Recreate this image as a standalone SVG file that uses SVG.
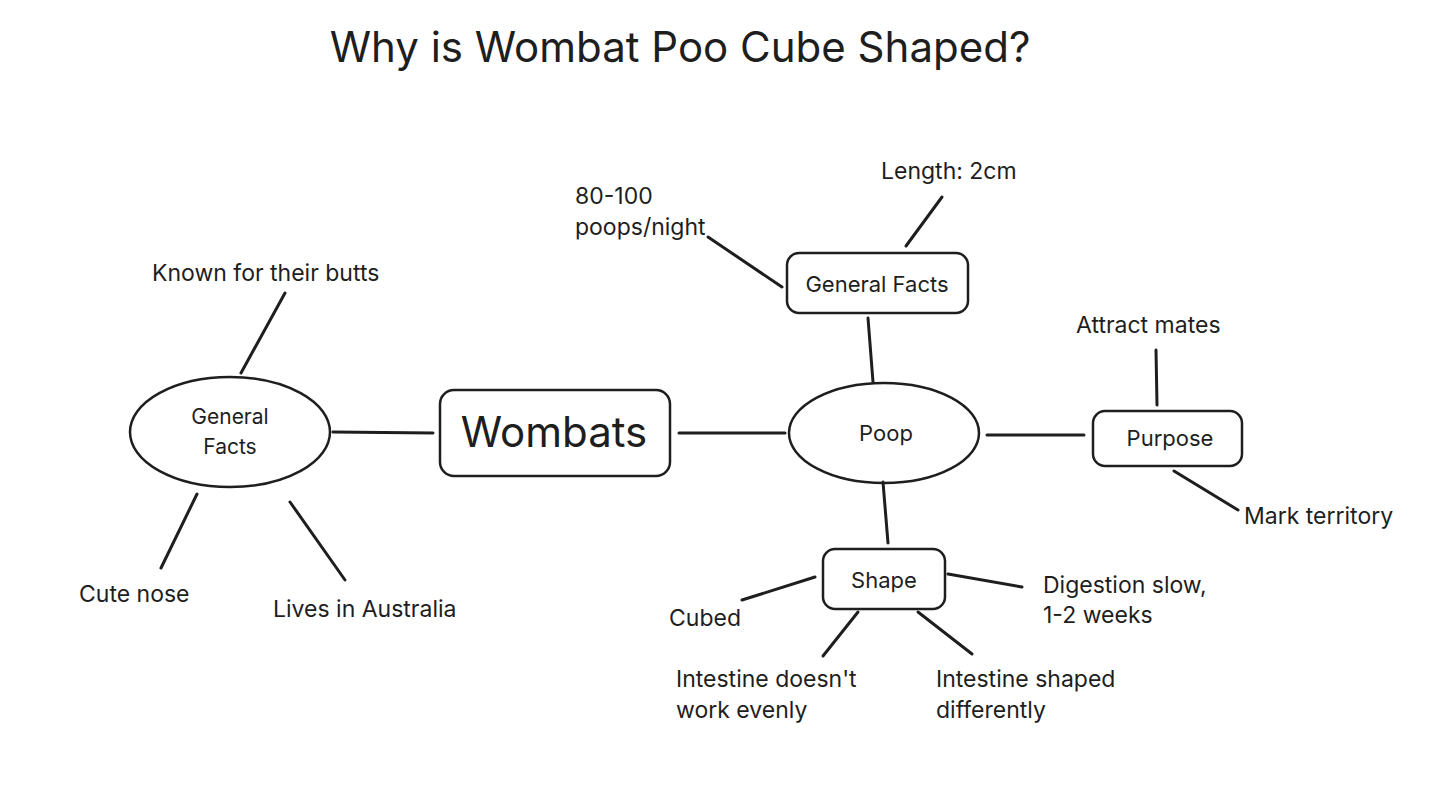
<svg xmlns="http://www.w3.org/2000/svg" width="1430" height="787" viewBox="0 0 1430 787">
<style>
text{font-family:Inter,"Noto Sans","Liberation Sans",sans-serif;fill:#1e1e1e;font-size:23px}
.s{fill:none;stroke:#1e1e1e;stroke-width:2.5;stroke-linecap:round}
.c{stroke:#1e1e1e;stroke-width:3;stroke-linecap:round}
.m{text-anchor:middle}
</style>
<rect width="1430" height="787" fill="#fff"/>
<text x="680" y="62" class="m" style="font-size:42px">Why is Wombat Poo Cube Shaped?</text>
<g id="connectors">
<line class="c" x1="285" y1="293" x2="241" y2="373"/>
<line class="c" x1="197" y1="494" x2="161" y2="568"/>
<line class="c" x1="290" y1="502" x2="345" y2="580"/>
<line class="c" x1="333" y1="432" x2="433" y2="433"/>
<line class="c" x1="679" y1="433" x2="785" y2="433"/>
<line class="c" x1="873" y1="382" x2="868" y2="318"/>
<line class="c" x1="708" y1="237" x2="782" y2="287"/>
<line class="c" x1="942" y1="197" x2="906" y2="246"/>
<line class="c" x1="987" y1="435" x2="1084" y2="435"/>
<line class="c" x1="1156" y1="350" x2="1157" y2="405"/>
<line class="c" x1="1174" y1="471" x2="1238" y2="510"/>
<line class="c" x1="883" y1="482" x2="888" y2="543"/>
<line class="c" x1="742" y1="600" x2="815" y2="577"/>
<line class="c" x1="948" y1="574" x2="1022" y2="587"/>
<line class="c" x1="858" y1="612" x2="823" y2="656"/>
<line class="c" x1="918" y1="612" x2="972" y2="654"/>
</g>
<g id="gf-left"><ellipse class="s" cx="230" cy="432" rx="100" ry="55"/><text x="230" y="424" class="m" style="font-size:21px">General</text><text x="230" y="454" class="m" style="font-size:21px">Facts</text></g>
<g id="wombats"><rect class="s" x="440" y="390" width="230" height="86" rx="14"/><text x="554" y="447" class="m" style="font-size:42px">Wombats</text></g>
<g id="poop"><ellipse class="s" cx="884" cy="433" rx="95" ry="50"/><text x="886" y="441" class="m" style="font-size:22px">Poop</text></g>
<g id="gf-top"><rect class="s" x="787" y="253" width="181" height="60" rx="12"/><text x="877" y="292" class="m" style="font-size:22px">General Facts</text></g>
<g id="purpose"><rect class="s" x="1093" y="411" width="149" height="55" rx="12"/><text x="1170" y="446" class="m" style="font-size:22px">Purpose</text></g>
<g id="shape"><rect class="s" x="823" y="549" width="122" height="60" rx="12"/><text x="884" y="588" class="m" style="font-size:22px">Shape</text></g>
<g id="labels">
<text x="152" y="281">Known for their butts</text>
<text x="79" y="602">Cute nose</text>
<text x="273" y="617">Lives in Australia</text>
<text x="575" y="204">80-100</text>
<text x="575" y="235">poops/night</text>
<text x="881" y="179">Length: 2cm</text>
<text x="1076" y="333">Attract mates</text>
<text x="1244" y="524">Mark territory</text>
<text x="669" y="626">Cubed</text>
<text x="1043" y="593">Digestion slow,</text>
<text x="1043" y="623">1-2 weeks</text>
<text x="676" y="687">Intestine doesn't</text>
<text x="676" y="718">work evenly</text>
<text x="936" y="687">Intestine shaped</text>
<text x="936" y="718">differently</text>
</g>
</svg>
